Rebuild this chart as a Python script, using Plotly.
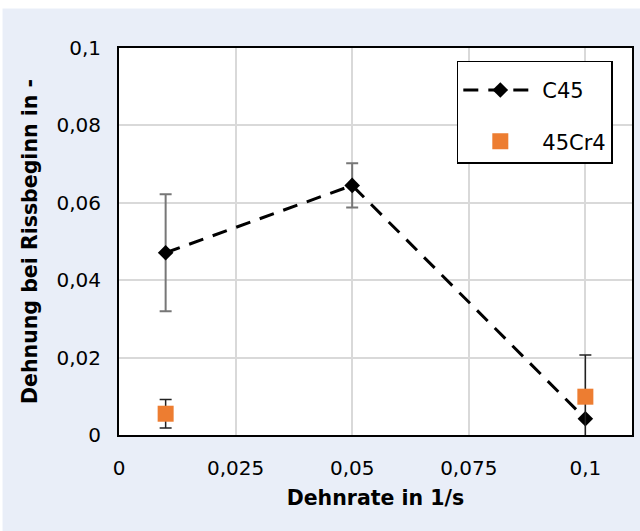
import plotly.graph_objects as go

# ---- data ----
c45_rate = [0.01, 0.05, 0.1]
c45_strain = [0.0471, 0.0645, 0.0042]
c45_err = [0.0151, 0.0057, 0.0]

cr4_rate = [0.01, 0.1]
cr4_strain = [0.0055, 0.0099]
cr4_err = [0.0037, 0.0108]

x_tickvals = [0, 0.025, 0.05, 0.075, 0.1]
x_ticktext = ["0", "0,025", "0,05", "0,075", "0,1"]
y_tickvals = [0, 0.02, 0.04, 0.06, 0.08, 0.1]
y_ticktext = ["0", "0,02", "0,04", "0,06", "0,08", "0,1"]

FONT = "DejaVu Sans"
BG = "#E9EEF8"

fig = go.Figure()
fig.add_trace(go.Scatter(
    x=c45_rate, y=c45_strain, name="C45", mode="lines+markers",
    legendgroup="a",
    line=dict(color="black", width=3, dash="15px,10px"),
    marker=dict(symbol="diamond", size=12, color="black"),
    error_y=dict(type="data", array=c45_err, visible=True,
                 color="#777777", thickness=2, width=6),
))
fig.add_trace(go.Scatter(
    x=cr4_rate, y=cr4_strain, name="45Cr4", mode="markers",
    legendgroup="b",
    marker=dict(symbol="square", size=16, color="#ED7D31"),
    error_y=dict(type="data", array=cr4_err, visible=True,
                 color="#222222", thickness=1.5, width=6),
))

fig.update_layout(
    width=640, height=531,
    margin=dict(l=119.3, r=8.3, t=47.5, b=95.8, autoexpand=False),
    paper_bgcolor=BG, plot_bgcolor="white",
    font=dict(family=FONT, size=20, color="black"),
    showlegend=True,
    legend=dict(
        x=0.6585, y=0.9675, xanchor="left", yanchor="top",
        bgcolor="white", bordercolor="black", borderwidth=1.5,
        font=dict(family=FONT, size=21, color="black"),
        title=dict(text=" ", font=dict(size=6)),
        traceorder="grouped", tracegroupgap=21, itemwidth=74,
    ),
    xaxis=dict(
        range=[0, 0.11], tickvals=x_tickvals, ticktext=x_ticktext,
        showgrid=True, gridcolor="#D9D9D9", gridwidth=1.5,
        zeroline=False, showline=True, linecolor="black", linewidth=2,
        mirror=True, ticks="", ticklabelstandoff=14, automargin=False,
        tickfont=dict(family=FONT, size=20),
        title=dict(text="<b>Dehnrate in 1/s</b>", standoff=12,
                   font=dict(family=FONT, size=20.5)),
    ),
    yaxis=dict(
        range=[0, 0.1], tickvals=y_tickvals, ticktext=y_ticktext,
        showgrid=True, gridcolor="#D9D9D9", gridwidth=1.5,
        zeroline=False, showline=True, linecolor="black", linewidth=2,
        mirror=True, ticks="", ticklabelstandoff=12, automargin=False,
        tickfont=dict(family=FONT, size=20),
        title=dict(text="<b>Dehnung bei Rissbeginn in -</b>", standoff=13,
                   font=dict(family=FONT, size=20.5)),
    ),
    shapes=[
        dict(type="rect", xref="paper", yref="paper", x0=-0.25, x1=1.05,
             y0=1.1019, y1=1.14, fillcolor="white", line=dict(width=0),
             layer="below"),
        dict(type="rect", xref="paper", yref="paper", x0=-0.25, x1=-0.2270,
             y0=-0.3, y1=1.14, fillcolor="white", line=dict(width=0),
             layer="below"),
    ],
)

fig.write_html("out.html")
